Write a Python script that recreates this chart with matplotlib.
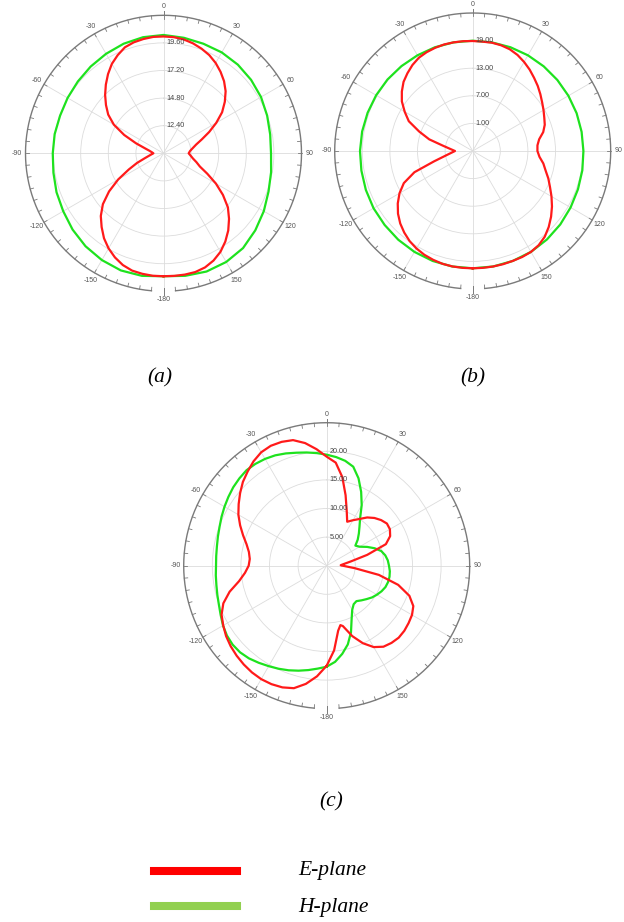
import numpy as np
import matplotlib.pyplot as plt
from matplotlib.lines import Line2D

ang5 = list(range(-180, 181, 5))
ang10 = list(range(-180, 181, 10))

# ---- (a) ----
a_e_ang = ang5
a_e_val = [20.69, 20.69, 20.64, 20.56, 20.34, 19.99, 19.55, 19.02, 18.37, 17.71,
           16.88, 15.78, 14.55, 13.33, 12.45, 11.71, 11.30, 11.05, 10.88, 11.01,
           11.23, 11.66, 12.54, 13.77, 14.99, 15.87, 16.53, 17.18, 17.80, 18.41,
           18.98, 19.42, 19.81, 19.99, 20.09, 20.16,
           20.16, 20.14, 20.06, 19.90, 19.68, 19.42, 19.07, 18.65, 18.19, 17.64,
           16.96, 16.22, 15.30, 14.38, 13.55, 12.94, 12.58, 12.32, 12.19, 12.37,
           12.60, 12.96, 13.37, 14.20, 15.26, 16.31, 17.31, 18.06, 18.76, 19.37,
           19.90, 20.29, 20.56, 20.69, 20.71, 20.70, 20.69]
a_h_ang = ang10
a_h_val = [20.69, 20.82, 20.84, 20.72, 20.55, 20.32, 20.07, 19.90, 19.72, 19.63, 19.61, 19.57, 19.63,
           19.72, 19.85, 19.99, 20.14, 20.25, 20.29, 20.20, 20.14, 20.13, 20.06, 19.94, 19.79, 19.59,
           19.42, 19.35, 19.50, 19.72, 20.07, 20.42, 20.76, 20.91, 20.94, 20.82, 20.69]

# ---- (b) ----
b_e_ang = ang5
b_e_val = [20.50, 20.50, 20.48, 20.39, 20.17, 19.89, 19.46, 18.91, 18.15, 17.28,
           16.20, 14.89, 13.37, 11.52, 8.48, 3.70, 1.09, -0.30, -1.15, -0.17,
           1.52, 4.78, 7.39, 10.33, 12.07, 13.80, 15.11, 16.26, 17.07, 17.83,
           18.41, 18.70, 18.87, 18.98, 18.98, 18.96,
           18.91, 18.87, 18.91, 18.80, 18.54, 18.04, 17.35, 16.59, 15.76, 15.00,
           14.20, 13.43, 12.78, 12.17, 11.67, 10.87, 9.67, 9.13, 9.07, 9.57,
           10.59, 11.41, 12.50, 13.54, 14.78, 16.04, 17.24, 18.37, 19.35, 20.00,
           20.33, 20.43, 20.43, 20.48, 20.50, 20.50, 20.50]
b_h_ang = ang10
b_h_val = [20.50, 20.50, 20.44, 20.33, 20.18, 20.00, 19.89, 19.72, 19.57, 19.50, 19.41, 19.31, 19.24,
           19.18, 19.09, 19.02, 19.00, 18.98, 18.98, 18.98, 19.00, 19.02, 19.02, 19.02, 19.02, 19.04,
           19.04, 19.07, 19.20, 19.35, 19.57, 19.85, 20.11, 20.33, 20.44, 20.50, 20.50]

# ---- (c) ----
c_e_ang = [-180, -175, -170, -165, -160, -155, -150, -145, -140, -135, -130, -125, -120, -115,
           -110, -105, -100, -95, -90, -85, -80, -75, -70, -65, -60, -55, -50, -45, -40, -35, -30,
           -25, -20, -15, -10, -5, 0, 5, 10, 15, 20, 25, 30, 35, 40, 45, 50, 55, 60, 65, 70, 75, 80,
           85, 88, 90, 95, 100, 105, 110, 115, 120, 125, 130, 135, 140, 145, 150, 155, 160, 165,
           167, 170, 175, 180]
c_e_val = [17.48, 19.41, 20.98, 22.17, 22.64, 22.85, 22.90, 22.78, 22.55, 22.26,
           21.91, 21.47, 20.89, 20.28, 19.23, 17.57, 15.56, 14.34, 13.64, 13.50,
           13.81, 14.51, 15.56, 16.70, 17.83, 18.79, 19.76, 20.72, 21.50, 22.29,
           22.90, 23.13, 23.04, 22.73, 21.77, 20.45,
           19.06, 18.09, 15.73, 12.76, 10.23, 8.48, 9.18, 9.97, 11.01, 11.80,
           12.41, 12.85, 12.76, 12.24, 11.01, 7.34, 4.28, 2.88, 2.45, 2.80,
           4.90, 9.27, 12.94, 15.38, 16.71, 17.22, 17.48, 17.71, 17.80, 17.62,
           17.29, 16.43, 14.95, 13.11, 10.93, 10.66, 11.54, 14.86, 17.48]
c_h_ang = ang5
c_h_val = [17.66, 18.06, 18.53, 19.00, 19.46, 19.88, 20.28, 20.72, 21.15, 21.42,
           21.47, 21.29, 20.93, 20.45, 20.05, 19.79, 19.58, 19.46, 19.35, 19.39,
           19.49, 19.69, 19.93, 20.28, 20.63, 20.98, 21.33, 21.59, 21.80, 21.73,
           21.56, 21.29, 20.89, 20.45, 20.10, 19.76,
           19.41, 19.06, 18.62, 17.92, 16.26, 14.25, 12.24, 10.19, 8.92, 7.95,
           7.08, 6.12, 6.64, 7.78, 8.92, 9.88, 10.40, 10.72, 10.89, 11.08,
           11.15, 11.10, 10.93, 10.58, 10.14, 9.67, 9.09, 8.57, 8.09, 8.22,
           8.92, 10.31, 12.41, 14.25, 15.65, 16.87, 17.66]

theta_labels = ['0', '30', '60', '90', '120', '150', '-180', '-150', '-120', '-90', '-60', '-30']
a_rings = [12.4, 14.8, 17.2, 19.6]
b_rings = [1.0, 7.0, 13.0, 19.0]
c_rings = [5.0, 10.0, 15.0, 20.0]

RED = '#ff1a1a'
GREEN = '#1ee21e'
RING = '#7a7a7a'
W, H = 624, 922

fig = plt.figure(figsize=(W / 100, H / 100), dpi=100)


def panel(cx, cy, R, rmin, rmax, rings, e_ang, e_val, h_ang, h_val):
    ax = fig.add_axes([(cx - R) / W, (H - cy - R) / H, 2 * R / W, 2 * R / H], projection='polar')
    ax.set_theta_zero_location('N')
    ax.set_theta_direction(-1)
    ax.set_ylim(rmin, rmax)
    ax.spines['polar'].set_visible(False)
    ax.set_xticks(np.radians(np.arange(0, 360, 30)))
    ax.set_xticklabels(theta_labels, fontsize=5, color='#555555', family='Liberation Sans')
    ax.tick_params(axis='x', length=0, pad=-1)
    ax.set_yticks(rings)
    ax.set_yticklabels([])
    ax.tick_params(axis='y', length=0)
    ax.grid(True, color='#dcdcdc', lw=0.6)

    # outer ring with the gap near 180, ticks every 5 degrees
    span = rmax - rmin
    px = span / R
    th = np.radians(np.arange(-175, 175.5, 0.5))
    ax.plot(th, np.full(th.size, rmax), color=RING, lw=1.0, clip_on=False)
    for d in range(-175, 180, 5):
        t = np.radians(d)
        ax.plot([t, t], [rmax - 3.5 * px, rmax], color=RING, lw=0.6, clip_on=False)
    ax.plot([0, 0], [rmax, rmax + 4 * px], color=RING, lw=0.7, clip_on=False)
    ax.plot([np.pi, np.pi], [rmax - 3 * px, rmax + 4 * px], color=RING, lw=0.7, clip_on=False)

    for r in rings:
        ax.annotate('%.2f' % r, xy=(0, r), xytext=(2, 0), textcoords='offset points',
                    ha='left', va='center', fontsize=5.2, color='#444444', family='Liberation Sans')

    ax.plot(np.radians(h_ang), h_val, color=GREEN, lw=1.6)
    ax.plot(np.radians(e_ang), e_val, color=RED, lw=1.6)
    return ax


panel(163.5, 153.3, 138, 10, 22, a_rings, a_e_ang, a_e_val, a_h_ang, a_h_val)
panel(472.7, 151, 138, -5, 25, b_rings, b_e_ang, b_e_val, b_h_ang, b_h_val)
panel(326.7, 565.7, 143, 0, 25, c_rings, c_e_ang, c_e_val, c_h_ang, c_h_val)

cap = dict(fontsize=15.5, family='Liberation Serif', style='italic', ha='center', va='center')
fig.text(160 / W, 1 - 378 / H, '(a)', **cap)
fig.text(473 / W, 1 - 378 / H, '(b)', **cap)
fig.text(331 / W, 1 - 802 / H, '(c)', **cap)

# legend
fig.add_artist(Line2D([154 / W, 237 / W], [1 - 871 / H] * 2, lw=5.8, color='#ff0000'))
fig.add_artist(Line2D([154 / W, 237 / W], [1 - 906 / H] * 2, lw=5.8, color='#92d050'))
leg = dict(fontsize=15.5, family='Liberation Serif', style='italic', ha='left', va='center')
fig.text(298 / W, 1 - 870 / H, 'E-plane', **leg)
fig.text(298 / W, 1 - 907 / H, 'H-plane', **leg)

fig.savefig('out.png', dpi=100)
